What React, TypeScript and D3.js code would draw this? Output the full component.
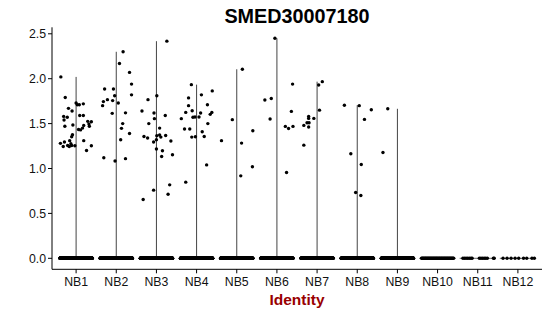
import React from "react";
import * as d3 from "d3";

const title = "SMED30007180";
const xTitle = "Identity";
const categories = ["NB1", "NB2", "NB3", "NB4", "NB5", "NB6", "NB7", "NB8", "NB9", "NB10", "NB11", "NB12"];
const yTicks = [0, 0.5, 1.0, 1.5, 2.0, 2.5];

// Non-zero expression values per identity: [jitter (fraction of band), value]
const nb1: [number, number][] = [
  [-0.38, 2.02], [-0.27, 1.79], [-0.19, 1.67], [-0.1, 1.64], [-0.31, 1.58], [-0.22, 1.57],
  [0.0, 1.73], [0.03, 1.71], [0.08, 1.71], [0.18, 1.72], [0.09, 1.59], [0.18, 1.59],
  [-0.3, 1.54], [0.38, 1.52], [0.32, 1.495], [0.33, 1.47], [0.19, 1.48], [0.16, 1.45],
  [0.06, 1.435], [0.11, 1.43], [-0.28, 1.47], [-0.08, 1.485], [-0.09, 1.376], [-0.11, 1.354],
  [-0.39, 1.28], [-0.29, 1.295], [-0.16, 1.31], [-0.32, 1.245], [-0.21, 1.257], [-0.17, 1.245],
  [-0.11, 1.257], [-0.03, 1.253], [-0.13, 1.276], [0.19, 1.31], [0.38, 1.253], [0.26, 1.2],
  [0.29, 1.525],
];
const nb2: [number, number][] = [
  [-0.31, 1.12], [-0.29, 1.886], [-0.07, 1.886], [-0.34, 1.7], [-0.32, 1.745], [-0.22, 1.767],
  [-0.09, 1.756], [-0.04, 1.81], [0.05, 1.73], [0.08, 2.17], [0.17, 2.3], [0.33, 2.07],
  [0.38, 1.94], [0.38, 1.82], [-0.1, 1.614], [0.23, 1.62], [0.16, 1.5], [0.13, 1.447],
  [0.33, 1.39], [0.11, 1.32], [-0.03, 1.083], [0.23, 1.11],
];
const nb3: [number, number][] = [
  [0.26, 2.418], [-0.21, 1.767], [0.01, 1.81], [-0.36, 1.64], [-0.06, 1.618], [-0.05, 1.555],
  [0.22, 1.59], [-0.19, 1.5], [0.08, 1.45], [-0.31, 1.357], [-0.22, 1.34], [0.01, 1.365],
  [0.08, 1.373], [0.11, 1.35], [0.23, 1.368], [-0.07, 1.295], [0.0, 1.32], [0.36, 1.306],
  [0.0, 1.217], [0.15, 1.198], [0.13, 1.134], [0.4, 1.153], [0.33, 0.818], [-0.07, 0.759],
  [0.29, 0.714], [-0.33, 0.654],
];
const nb4: [number, number][] = [
  [-0.13, 1.934], [0.39, 1.864], [0.12, 1.82], [-0.2, 1.786], [-0.2, 1.7], [0.27, 1.71],
  [-0.11, 1.644], [-0.27, 1.625], [0.1, 1.618], [0.38, 1.625], [0.34, 1.603], [-0.38, 1.555],
  [-0.09, 1.57], [-0.04, 1.574], [0.06, 1.574], [0.28, 1.5], [-0.3, 1.44], [-0.17, 1.44],
  [0.14, 1.41], [0.19, 1.357], [-0.12, 1.35], [-0.03, 1.354], [0.25, 1.04], [-0.27, 0.848],
];
const nb5: [number, number][] = [
  [-0.11, 1.544], [0.14, 2.105], [-0.38, 1.31], [0.4, 1.42], [0.12, 1.283], [0.39, 1.019], [0.1, 0.918],
];
const nb6: [number, number][] = [
  [-0.05, 2.45], [-0.3, 1.763], [-0.14, 1.78], [0.39, 1.94], [-0.17, 1.551], [0.36, 1.636],
  [0.21, 1.469], [0.29, 1.446], [0.4, 1.469], [0.24, 0.955],
];
const nb7: [number, number][] = [
  [0.04, 1.93], [0.13, 1.967], [0.06, 1.65], [-0.21, 1.58], [-0.21, 1.558], [-0.25, 1.51],
  [-0.2, 1.51], [-0.08, 1.558], [-0.33, 1.48], [-0.21, 1.462], [-0.33, 1.26],
];
const nb8: [number, number][] = [
  [-0.32, 1.705], [0.05, 1.7], [0.35, 1.655], [0.18, 1.547], [-0.16, 1.164], [0.1, 1.045],
  [-0.04, 0.732], [0.09, 0.699],
];
const nb9: [number, number][] = [[-0.24, 1.665], [-0.36, 1.179]];
const nb10: [number, number][] = [];
const nb11: [number, number][] = [];
const nb12: [number, number][] = [];
const nonZero = [nb1, nb2, nb3, nb4, nb5, nb6, nb7, nb8, nb9, nb10, nb11, nb12];

// Cells with zero expression: dense groups given as counts, sparse groups as jitter offsets
const zeroCounts = [700, 650, 600, 650, 500, 450, 420, 450, 380, 45, 0, 0];
const nb11Zero = [-0.37, -0.33, -0.29, -0.25, -0.21, -0.17, -0.14, 0.04, 0.08, 0.12, 0.16, 0.2, 0.24, 0.39, 0.41];
const nb12Zero = [-0.37, -0.27, -0.17, -0.07, 0.02, 0.14, 0.22, 0.35, 0.41];

const W = 550;
const H = 316;
const left = 52;
const right = 542;
const bottom = 269.3;
const top = 27.3;

export default function App() {
  const x = d3.scaleBand<string>().domain(categories).range([left, right]).paddingOuter(0.1).paddingInner(0);
  const bw = x.bandwidth();
  const cx = (c: string) => (x(c) as number) + bw / 2;
  const allVals = nonZero.flat().map((d) => d[1]);
  const ymax = d3.max(allVals) as number;
  const pad = ymax * 0.05;
  const y = d3.scaleLinear().domain([-pad, ymax + pad]).range([bottom, top]);

  const zeroOffsets: number[][] = categories.map((_, i) => {
    if (i === 10) return nb11Zero;
    if (i === 11) return nb12Zero;
    const n = zeroCounts[i];
    return d3.range(n).map((k) => -0.4 + (0.8 * k) / (n - 1));
  });

  const font = "'Liberation Sans', Arial, Helvetica, sans-serif";

  return (
    <svg width={W} height={H} style={{ display: "block", position: "absolute", left: 0, top: 0 }}>
      <rect x={0} y={0} width={W} height={H} fill="white" />
      {/* violins */}
      {categories.map((c, i) => {
        const vals = nonZero[i].map((d) => d[1]);
        const m = vals.length ? (d3.max(vals) as number) : 0;
        return (
          <g key={"v" + c}>
            <line x1={cx(c) - bw * 0.45} x2={cx(c) + bw * 0.45} y1={y(0)} y2={y(0)} stroke="#222" strokeWidth={0.7} />
            {m > 0 && (
              <line x1={cx(c)} x2={cx(c)} y1={y(0)} y2={y(m)} stroke="#444" strokeWidth={1} />
            )}
          </g>
        );
      })}
      {/* zero points */}
      {categories.map((c, i) => (
        <g key={"z" + c}>
          {zeroOffsets[i].map((o, k) => (
            <circle key={k} cx={cx(c) + o * bw} cy={y(0)} r={1.7} fill="black" />
          ))}
        </g>
      ))}
      {/* non-zero points */}
      {categories.map((c, i) => (
        <g key={"p" + c}>
          {nonZero[i].map((d, k) => (
            <circle key={k} cx={cx(c) + d[0] * bw} cy={y(d[1])} r={1.7} fill="black" />
          ))}
        </g>
      ))}
      {/* axes */}
      <line x1={left} x2={left} y1={top} y2={bottom} stroke="black" strokeWidth={1} />
      <line x1={left} x2={right} y1={bottom} y2={bottom} stroke="black" strokeWidth={1} />
      {yTicks.map((t) => (
        <g key={"yt" + t}>
          <line x1={left - 4} x2={left} y1={y(t)} y2={y(t)} stroke="black" strokeWidth={1} />
          <text x={left - 6} y={y(t)} dy="0.36em" textAnchor="end" fontFamily={font} fontSize={12.3} fill="#111">
            {t.toFixed(1)}
          </text>
        </g>
      ))}
      {categories.map((c) => (
        <g key={"xt" + c}>
          <line x1={cx(c)} x2={cx(c)} y1={bottom} y2={bottom + 4} stroke="black" strokeWidth={1} />
          <text x={cx(c)} y={286} textAnchor="middle" fontFamily={font} fontSize={12.3} fill="#111">
            {c}
          </text>
        </g>
      ))}
      <text x={(left + right) / 2} y={23} textAnchor="middle" fontFamily={font} fontSize={19.8} fontWeight="bold" fill="black">
        {title}
      </text>
      <text x={(left + right) / 2} y={305} textAnchor="middle" fontFamily={font} fontSize={15.5} fontWeight="bold" fill="#990000">
        {xTitle}
      </text>
    </svg>
  );
}
